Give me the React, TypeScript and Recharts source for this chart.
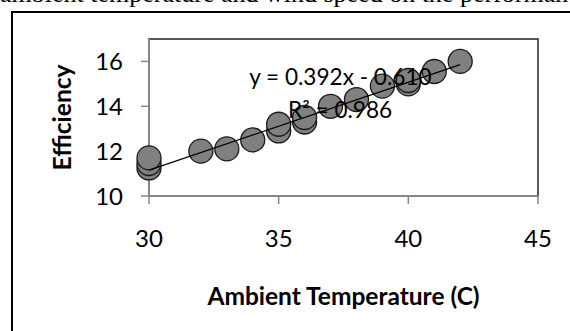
import {
  ScatterChart,
  Scatter,
  XAxis,
  YAxis,
  ReferenceArea,
  ReferenceDot,
  Label,
} from "recharts";

// readings (ambient temperature in C, module efficiency in %)
const temperature = [30, 30, 30, 32, 33, 34, 35, 35, 36, 36, 37, 38, 39, 40, 40, 41, 42];
const efficiency = [11.25, 11.45, 11.7, 12.0, 12.1, 12.5, 12.9, 13.2, 13.3, 13.5, 14.0, 14.3, 14.9, 15.0, 15.15, 15.55, 16.0];

const xTicks = [30, 35, 40, 45];
const yTicks = [10, 12, 14, 16];

// linear trendline as printed on the chart
const TREND_SLOPE = 0.392;
const TREND_INTERCEPT = -0.61;
const trendRange = [30, 42];
const trendEquation = "y = 0.392x - 0.610";
const trendR2 = "R² = 0.986";

const points = temperature.map((t, i) => ({ x: t, y: efficiency[i] }));
const trend = trendRange.map((t) => ({ x: t, y: TREND_SLOPE * t + TREND_INTERCEPT }));

const FONT = "Lato, Calibri, sans-serif";
const AXIS_GREY = "#868686";

const Marker = (props: any) => (
  <circle cx={props.cx} cy={props.cy} r={12} fill="#808080" stroke="#1a1a1a" strokeWidth={1.3} />
);

const YTitle = ({ viewBox }: any) => {
  const cx = viewBox.x + viewBox.width - 87;
  const cy = viewBox.y + viewBox.height / 2;
  return (
    <text
      x={cx}
      y={cy}
      dy="0.36em"
      transform={`rotate(-90, ${cx}, ${cy})`}
      textAnchor="middle"
      fontFamily={FONT}
      fontWeight={700}
      fontSize={24.5}
      fill="#000"
    >
      Efficiency
    </text>
  );
};

const XTitle = ({ viewBox }: any) => (
  <text
    x={viewBox.x + viewBox.width / 2}
    y={viewBox.y + 109}
    textAnchor="middle"
    fontFamily={FONT}
    fontWeight={700}
    fontSize={24.5}
    fill="#000"
  >
    Ambient Temperature (C)
  </text>
);

export default function App() {
  return (
    <div
      style={{
        position: "absolute",
        left: 0,
        top: 0,
        width: 570,
        height: 331,
        overflow: "hidden",
        background: "#fff",
      }}
    >
      <div
        style={{
          position: "absolute",
          left: 0,
          top: -19,
          whiteSpace: "nowrap",
          fontFamily: "'Liberation Serif', 'Times New Roman', serif",
          fontSize: 26,
          lineHeight: "26px",
          color: "#000",
        }}
      >
        ambient temperature and wind speed on the performance of the panels
      </div>
      <div
        style={{
          position: "absolute",
          left: 11,
          top: 11,
          width: 620,
          height: 400,
          borderLeft: "2px solid #000",
          borderTop: "2px solid #000",
        }}
      />
      <div style={{ position: "absolute", left: 0, top: 0 }}>
        <ScatterChart
          width={570}
          height={331}
          margin={{ top: 39, right: 32, left: 89, bottom: 15 }}
        >
          <ReferenceArea
            x1={30}
            x2={45}
            y1={10}
            y2={17}
            fill="none"
            stroke="#222"
            strokeWidth={1.5}
          />
          <XAxis
            type="number"
            dataKey="x"
            domain={[30, 45]}
            ticks={xTicks}
            height={120}
            tickSize={8}
            tickMargin={26}
            axisLine={{ stroke: AXIS_GREY, strokeWidth: 2 }}
            tickLine={{ stroke: AXIS_GREY, strokeWidth: 1.5 }}
            tick={{ fontFamily: FONT, fontSize: 24, fill: "#000" }}
          >
            <Label content={XTitle} />
          </XAxis>
          <YAxis
            type="number"
            dataKey="y"
            domain={[10, 17]}
            ticks={yTicks}
            width={60}
            tickSize={8}
            tickMargin={18}
            axisLine={{ stroke: AXIS_GREY, strokeWidth: 2 }}
            tickLine={{ stroke: AXIS_GREY, strokeWidth: 1.5 }}
            tick={{ fontFamily: FONT, fontSize: 24, fill: "#000" }}
          >
            <Label content={YTitle} />
          </YAxis>
          <Scatter data={points} shape={Marker} isAnimationActive={false} />
          <Scatter
            data={trend}
            line={{ stroke: "#000", strokeWidth: 1.3 }}
            lineType="joint"
            shape={() => null}
            isAnimationActive={false}
          />
          <ReferenceDot
            x={37.38}
            y={15.31}
            r={0}
            fill="none"
            stroke="none"
            label={{ value: trendEquation, position: "center", fontFamily: FONT, fontSize: 22.6, fill: "#000" }}
          />
          <ReferenceDot
            x={37.37}
            y={13.83}
            r={0}
            fill="none"
            stroke="none"
            label={{ value: trendR2, position: "center", fontFamily: FONT, fontSize: 22.6, fill: "#000" }}
          />
        </ScatterChart>
      </div>
    </div>
  );
}
